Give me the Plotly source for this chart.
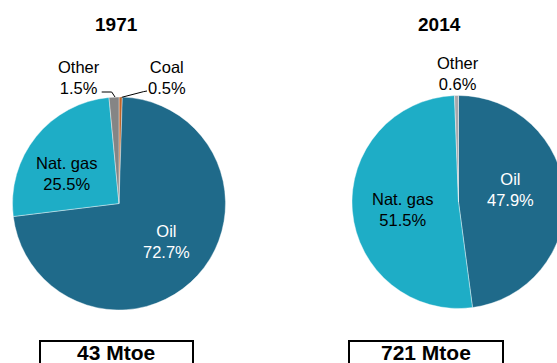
import plotly.graph_objects as go

# Shares of total supply by fuel (%), listed clockwise from 12 o'clock
years = ["1971", "2014"]
labels_1971 = ["Coal", "Oil", "Nat. gas", "Other"]
shares_1971 = [0.5, 72.7, 25.5, 1.5]
labels_2014 = ["Oil", "Nat. gas", "Other"]
shares_2014 = [47.9, 51.5, 0.6]
totals_mtoe = [43, 721]

fuel_colors = {
    "Coal": "#BF6428",
    "Oil": "#1F6A8A",
    "Nat. gas": "#1EADC6",
    "Other": "#8A8A8A",
}

W, H = 566, 363
FONT = "Arial, Liberation Sans, sans-serif"


def px(x):
    return x / W


def py(y):
    return 1 - y / H


fig = go.Figure()

pies = [
    (labels_1971, shares_1971, (12.5, 225.5), (97, 310), {"Other": "#858585"}),
    (labels_2014, shares_2014, (352, 565), (95.5, 308.5), {"Other": "#A8A8AC"}),
]
for labels, shares, (x0, x1), (y0, y1), override in pies:
    colors = [override.get(l, fuel_colors[l]) for l in labels]
    fig.add_trace(go.Pie(
        labels=labels,
        values=shares,
        sort=False,
        direction="clockwise",
        rotation=0,
        textinfo="none",
        hoverinfo="label+percent",
        marker=dict(colors=colors, line=dict(color="white", width=0.4)),
        domain=dict(x=[px(x0), px(x1)], y=[py(y1), py(y0)]),
        showlegend=False,
    ))


def label_text(labels, shares, name):
    return f"{name}<br>{shares[labels.index(name)]}%"


annotations = []
# Year titles
for year, xc in zip(years, (116, 439)):
    annotations.append(dict(
        x=px(xc), y=py(24), text=f"<b>{year}</b>", showarrow=False,
        xanchor="center", yanchor="middle",
        font=dict(family=FONT, size=19, color="black"),
    ))

# Slice labels: (labels, shares, name, x, y, color)
slice_labels = [
    (labels_1971, shares_1971, "Other", 79, 77, "black"),
    (labels_1971, shares_1971, "Coal", 167, 77, "black"),
    (labels_1971, shares_1971, "Nat. gas", 66, 173, "black"),
    (labels_1971, shares_1971, "Oil", 166.5, 241, "white"),
    (labels_2014, shares_2014, "Other", 457.5, 73, "black"),
    (labels_2014, shares_2014, "Oil", 510, 189, "white"),
    (labels_2014, shares_2014, "Nat. gas", 402.5, 210, "black"),
]
for labels, shares, name, xc, yc, col in slice_labels:
    annotations.append(dict(
        x=px(xc), y=py(yc), text=label_text(labels, shares, name),
        showarrow=False, xanchor="center", yanchor="middle",
        font=dict(family=FONT, size=16.5, color=col),
    ))

# Totals under each pie
for total, xc in zip(totals_mtoe, (116, 426)):
    annotations.append(dict(
        x=px(xc), y=py(352), text=f"<b>{total} Mtoe</b>", showarrow=False,
        xanchor="center", yanchor="middle",
        font=dict(family=FONT, size=21, color="black"),
    ))

shapes = []
# Leader lines for the thin 1971 slices
leaders = [
    [(101.7, 92), (111.7, 92), (115, 97)],
    [(121.7, 97.3), (143.3, 91.7), (147, 91)],
]
for pts in leaders:
    for (xa, ya), (xb, yb) in zip(pts[:-1], pts[1:]):
        shapes.append(dict(
            type="line", xref="paper", yref="paper",
            x0=px(xa), y0=py(ya), x1=px(xb), y1=py(yb),
            line=dict(color="black", width=1),
        ))

# Boxes around the totals
for x0, x1 in ((40, 193), (349, 503)):
    shapes.append(dict(
        type="rect", xref="paper", yref="paper",
        x0=px(x0), x1=px(x1), y0=py(375), y1=py(341),
        line=dict(color="black", width=2), fillcolor="rgba(0,0,0,0)",
    ))

fig.update_layout(
    width=W, height=H, autosize=False,
    margin=dict(l=0, r=0, t=0, b=0),
    paper_bgcolor="white", plot_bgcolor="white",
    annotations=annotations, shapes=shapes,
)

fig.write_html("out.html")
